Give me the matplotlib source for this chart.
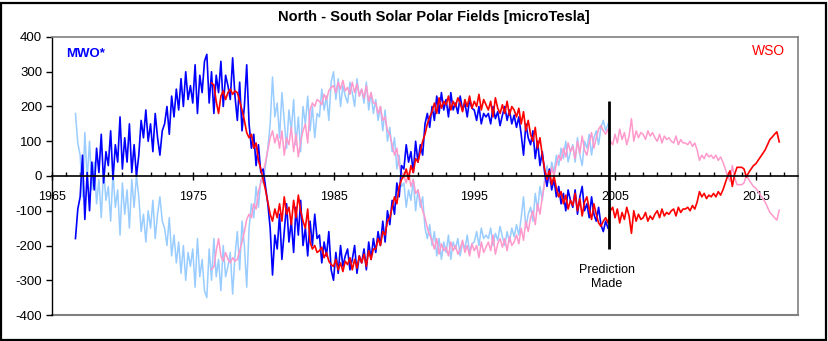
import numpy as np
import matplotlib
matplotlib.use("Agg")
import matplotlib.pyplot as plt
from matplotlib.patches import Rectangle

plt.rcParams['font.family'] = ['Liberation Sans', 'DejaVu Sans']
plt.rcParams['axes.unicode_minus'] = False

# ---------------- data (microTesla, North - South) ----------------
MWO_START = 1966 + 4 / 6      # first sample (years), 6 samples / year
MWO_PER_YEAR = 6
mwo_values = [
    -180, -95,                                   # 1966
    -60, 60, -125, 10, -100, 40,                 # 1967
    -40, 80, 10, 120, -20, 70,                   # 1968
    30, 130, -10, 90, 40, 170,                   # 1969
    20, 110, 40, 150, 10, 90,                    # 1970
    0, 60, 160, 110, 190, 100,                   # 1971
    150, 70, 180, 110, 60, 130,                  # 1972
    150, 200, 120, 230, 170, 250,                # 1973
    190, 280, 200, 300, 220, 260,                # 1974
    210, 320, 180, 290, 240, 330,                # 1975
    350, 210, 300, 180, 290, 240,                # 1976
    330, 200, 290, 260, 220, 340,                # 1977
    230, 160, 270, 130, 200, 320,                # 1978
    150, 80, 120, 30, 90, 10,                    # 1979
    20, -30, -80, -150, -285, -170,              # 1980
    -210, -110, -240, -160, -80, -190,           # 1981
    -130, -220, -90, -170, -70, -200,            # 1982
    -150, -230, -130, -200, -110, -180,          # 1983
    -170, -250, -190, -230, -160, -270,          # 1984
    -300, -220, -280, -200, -260, -230,          # 1985
    -210, -270, -240, -200, -280, -230,          # 1986
    -250, -210, -270, -190, -240, -180,          # 1987
    -220, -160, -200, -130, -190, -100,          # 1988
    -140, -70, -110, -20, -60, 30,               # 1989
    20, 90, 40, 70, 10, 100,                     # 1990
    40, 90, 60, 150, 180, 140,                   # 1991
    200, 160, 230, 180, 240, 190,                # 1992
    220, 170, 240, 190, 210, 180,                # 1993
    230, 190, 210, 170, 220, 195,                # 1994
    190, 160, 200, 150, 180, 170,                # 1995
    180, 150, 200, 165, 185, 145,                # 1996
    175, 200, 160, 190, 150, 175,                # 1997
    140, 170, 120, 60, 150, 110,                 # 1998
    90, 130, 50, 100, 30, 70,                    # 1999
    10, -30, 20, -40, -10, -60,                  # 2000
    -30, -80, -50, -100, -40, -70,               # 2001
    -90, -40, -110, -60, -30, -100,              # 2002
    -80, -120, -60, -110, -130, -90,             # 2003
    -140, -160, -130, -150,                      # 2004
]

WSO_START = 1976 + 2 / 6
WSO_PER_YEAR = 6
wso_values = [
    268, 262, 215, 180,                          # 1976
    230, 245, 220, 240, 250, 235,                # 1977
    245, 240, 215, 190, 160, 125,                # 1978
    110, 120, 80, 95, 45, 20,                    # 1979
    -10, -40, -75, -110, -130, -95,              # 1980
    -120, -80, -130, -60, -110, -90,             # 1981
    -140, -70, -120, -55, -100, -130,            # 1982
    -150, -95, -190, -210, -200, -220,           # 1983
    -215, -205, -235, -220, -245, -255,          # 1984
    -260, -240, -270, -250, -275, -245,          # 1985
    -255, -235, -270, -240, -265, -230,          # 1986
    -250, -225, -260, -215, -240, -210,          # 1987
    -210, -180, -200, -160, -170, -130,          # 1988
    -120, -90, -60, -80, -30, -10,               # 1989
    0, 20, -10, 30, 10, 50,                      # 1990
    40, 70, 100, 120, 150, 170,                  # 1991
    185, 210, 180, 225, 195, 215,                # 1992
    205, 230, 190, 215, 200, 225,                # 1993
    210, 185, 220, 200, 230, 195,                # 1994
    215, 200, 235, 190, 220, 205,                # 1995
    190, 215, 170, 225, 195, 180,                # 1996
    205, 180, 215, 175, 200, 190,                # 1997
    170, 195, 150, 185, 130, 160,                # 1998
    120, 100, 140, 80, 110, 60,                  # 1999
    20, -10, 15, -25, 0, -35,                    # 2000
    -60, -45, -80, -55, -95, -70,                # 2001
    -85, -50, -100, -65, -115, -75,              # 2002
    -60, -95, -125, -80, -110, -135,             # 2003
    -145, -130, -120, -135, -100, -90,           # 2004
    -120, -95, -135, -105, -125, -90,            # 2005
    -115, -165, -100, -130, -110, -125,          # 2006
    -120, -105, -130, -115, -125, -110,          # 2007
    -100, -120, -95, -115, -105, -110,           # 2008
    -100, -95, -115, -90, -105, -95,             # 2009
    -95, -90, -100, -85, -95, -75,               # 2010
    -45, -60, -50, -65, -55, -60,                # 2011
    -50, -60, -45, -55, -40, -20,                # 2012
    0, 15, -30, 5, 25, 25,                       # 2013
    25, 20, -3, 10, 20, 30,                      # 2014
    35, 45, 55, 65, 75, 90,                      # 2015
    105, 112, 120, 127, 98,                      # 2016
]

PREDICTION_YEAR = 2004.6
PREDICTION_RANGE = (-210, 215)

x_ticks = [1965, 1975, 1985, 1995, 2005, 2015]
y_ticks = [-400, -300, -200, -100, 0, 100, 200, 300, 400]

# ---------------- figure ----------------
W, H = 829, 341
fig = plt.figure(figsize=(W / 100, H / 100), dpi=100)
fig.patches.append(Rectangle((1.5 / W, 1.5 / H), (W - 4) / W, (H - 4) / H,
                             transform=fig.transFigure, fill=False,
                             edgecolor='black', linewidth=1.6))

ax = fig.add_axes([52 / W, (H - 315) / H, (798 - 52) / W, (315 - 37) / H])
ax.set_xlim(1965, 2018)
ax.set_ylim(-400, 400)

mwo = np.array(mwo_values, dtype=float)
wso = np.array(wso_values, dtype=float)
t_mwo = MWO_START + np.arange(len(mwo)) / MWO_PER_YEAR
t_wso = WSO_START + np.arange(len(wso)) / WSO_PER_YEAR

LIGHT_BLUE = '#99CCFF'
PINK = '#FF99CC'
BLUE = '#0000FF'
RED = '#FF0000'

ax.plot(t_mwo, -mwo, color=LIGHT_BLUE, lw=1.1, zorder=2)
ax.plot(t_wso, -wso, color=PINK, lw=1.1, zorder=3)
ax.plot(t_mwo, mwo, color=BLUE, lw=1.2, zorder=4)
ax.plot(t_wso, wso, color=RED, lw=1.2, zorder=5)

ax.vlines(PREDICTION_YEAR, *PREDICTION_RANGE, color='black', lw=2, zorder=6)

# spines
for s in ['top', 'right']:
    ax.spines[s].set_color('#808080')
    ax.spines[s].set_linewidth(1.2)
ax.spines['left'].set_color('black')
ax.spines['left'].set_linewidth(1.0)
ax.spines['bottom'].set_position(('data', 0))
ax.spines['bottom'].set_color('black')
ax.spines['bottom'].set_linewidth(1.2)
ax.spines['bottom'].set_zorder(7)
ax.axhline(-400, color='#808080', lw=1.5, clip_on=False, zorder=1)

ax.set_xticks(x_ticks)
ax.set_xticklabels([str(v) for v in x_ticks])
ax.set_xticks(np.arange(1966, 2018, 1), minor=True)
ax.tick_params(axis='x', which='major', direction='inout', length=6, width=1,
               labelsize=9, pad=8)
ax.tick_params(axis='x', which='minor', direction='in', length=3, width=1)
ax.set_yticks(y_ticks)
ax.tick_params(axis='y', which='major', direction='out', length=4, width=1,
               labelsize=9.5, pad=3)

fig.text(434 / W, 1 - 17 / H, 'North - South Solar Polar Fields [microTesla]',
         ha='center', va='center', fontsize=10.5, fontweight='bold')

ax.text(0.019, 0.94, 'MWO*', transform=ax.transAxes, color=BLUE,
        fontsize=9.5, fontweight='bold', ha='left', va='center')
ax.text(0.938, 0.95, 'WSO', transform=ax.transAxes, color=RED,
        fontsize=10, ha='left', va='center')
ax.text(PREDICTION_YEAR - 0.2, -290, 'Prediction\nMade', ha='center',
        va='center', fontsize=9, linespacing=1.25)

fig.savefig('out.png', dpi=100)
